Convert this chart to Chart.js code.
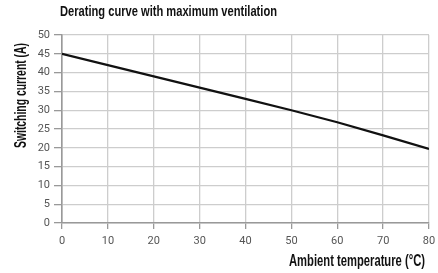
<!DOCTYPE html>
<html><head><meta charset="utf-8">
<script src="https://cdn.jsdelivr.net/npm/chart.js@4"></script>
<style>html,body{margin:0;padding:0;background:#fff}#wrap{width:438px;height:273px}</style>
</head><body><div id="wrap"><canvas id="c" width="438" height="273"></canvas></div>
<script>
const chartTitle = "Derating curve with maximum ventilation";
const xTitle = "Ambient temperature (°C)";
const yTitle = "Switching current (A)";
const temperatures = [0, 10, 20, 30, 40, 50, 60, 70, 80];
const currents = [45, 42, 39, 36, 33, 30, 26.8, 23.3, 19.7];

const TITLE_FONT = "'Liberation Sans', Arial, sans-serif";
const TICK_FONT = "Roboto, 'Liberation Sans', sans-serif";

// draw text horizontally compressed to imitate a condensed typeface
function drawCondensed(ctx, text, cx, cy, targetWidth, font, rotate) {
  ctx.save();
  ctx.font = font;
  ctx.fillStyle = '#111';
  ctx.textAlign = 'center';
  ctx.textBaseline = 'middle';
  const w = ctx.measureText(text).width;
  const sx = targetWidth / w;
  ctx.translate(cx, cy);
  if (rotate) ctx.rotate(-Math.PI / 2);
  ctx.scale(sx, 1);
  ctx.fillText(text, 0, 0);
  ctx.restore();
}

const titlePlugin = {
  id: 'titlePlugin',
  afterDraw(chart) {
    const ctx = chart.ctx;
    drawCondensed(ctx, chartTitle, 168.5, 12, 217, "900 15px " + TITLE_FONT, false);
    drawCondensed(ctx, xTitle, 357, 262, 136, "900 16px " + TITLE_FONT, false);
    drawCondensed(ctx, yTitle, 22, 95.5, 105, "900 16px " + TITLE_FONT, true);
  }
};

new Chart(document.getElementById('c'), {
  type: 'line',
  data: {
    datasets: [{
      data: temperatures.map((t, i) => ({x: t, y: currents[i]})),
      borderColor: '#111',
      borderWidth: 2.2,
      pointRadius: 0,
      tension: 0,
      fill: false
    }]
  },
  options: {
    responsive: false,
    animation: false,
    layout: {padding: {top: 35, right: 9, left: 0, bottom: 0}},
    plugins: {legend: {display: false}, tooltip: {enabled: false}},
    scales: {
      x: {
        type: 'linear', min: 0, max: 80,
        ticks: {stepSize: 10, color: '#555', font: {family: TICK_FONT, size: 11}, padding: 6},
        grid: {color: '#cdcdcd', lineWidth: 1.3, tickLength: 6, tickColor: '#999'},
        border: {color: '#999', width: 1.6},
        afterFit(s) { s.height = 50; s.paddingRight = 0; s.paddingLeft = 0; }
      },
      y: {
        min: 0, max: 50,
        ticks: {stepSize: 5, color: '#555', font: {family: TICK_FONT, size: 11}, padding: 4},
        grid: {color: '#cdcdcd', lineWidth: 1.3, tickLength: 8, tickColor: '#999'},
        border: {color: '#999', width: 1.6},
        afterFit(s) { s.width = 62; s.paddingTop = 0; s.paddingBottom = 0; }
      }
    }
  },
  plugins: [titlePlugin]
});
</script></body></html>
